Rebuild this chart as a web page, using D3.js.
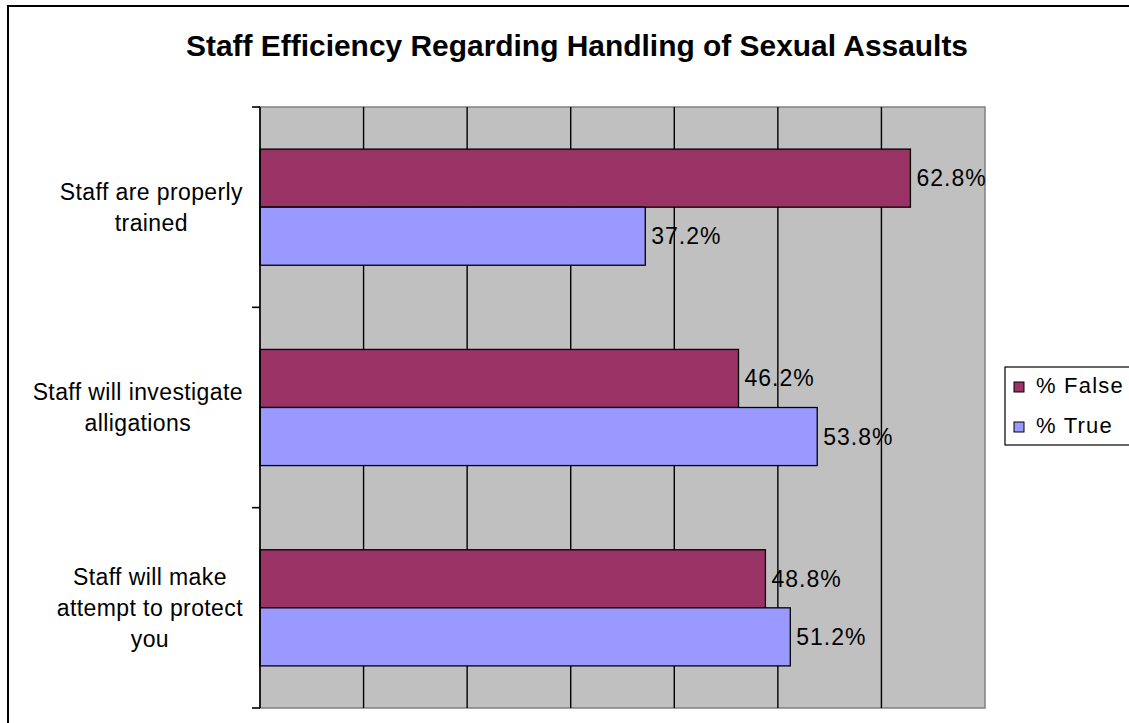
<!DOCTYPE html>
<html>
<head>
<meta charset="utf-8">
<script src="https://cdn.jsdelivr.net/npm/d3@7"></script>
<style>
  html, body { margin: 0; padding: 0; background: #fff; }
  svg { display: block; font-family: Arial, "Liberation Sans", sans-serif; }
</style>
</head>
<body>
<svg id="chart" width="1129" height="723"></svg>
<script>
// Survey categories (line breaks mark where each axis label wraps)
const categories = [
  "Staff are properly\ntrained",
  "Staff will investigate\nalligations",
  "Staff will make\nattempt to protect\nyou"
];
const seriesNames = ["% False", "% True"];
const falseValues = [62.8, 46.2, 48.8];
const trueValues = [37.2, 53.8, 51.2];
const gridTicks = [0, 10, 20, 30, 40, 50, 60, 70];
const seriesColors = ["#993366", "#9999FF"];
const chartTitle = "Staff Efficiency Regarding Handling of Sexual Assaults";

const svg = d3.select("#chart");

// outer chart frame
svg.append("rect")
  .attr("x", 8).attr("y", 6)
  .attr("width", 1140).attr("height", 740)
  .attr("fill", "none").attr("stroke", "#000").attr("stroke-width", 2);

const plot = { left: 260, top: 107, right: 985, bottom: 708 };

const x = d3.scaleLinear().domain([0, 70]).range([plot.left, plot.right]);
const y = d3.scaleBand().domain(categories).range([plot.top, plot.bottom]);
const ySub = d3.scaleBand().domain(seriesNames).range([0, y.bandwidth()]).paddingOuter(0.725);

// plot background
svg.append("rect")
  .attr("x", plot.left).attr("y", plot.top)
  .attr("width", plot.right - plot.left).attr("height", plot.bottom - plot.top)
  .attr("fill", "#C0C0C0").attr("stroke", "#808080").attr("stroke-width", 1.5);

// vertical gridlines
svg.append("g")
  .selectAll("line")
  .data(gridTicks.filter(t => t > 0 && t < 70))
  .join("line")
  .attr("x1", d => x(d)).attr("x2", d => x(d))
  .attr("y1", plot.top).attr("y2", plot.bottom)
  .attr("stroke", "#000").attr("stroke-width", 1.4);

// bars
const rows = categories.map((c, i) => ({
  category: c,
  values: [
    { series: seriesNames[0], value: falseValues[i], color: seriesColors[0] },
    { series: seriesNames[1], value: trueValues[i], color: seriesColors[1] }
  ]
}));

const groups = svg.append("g")
  .selectAll("g")
  .data(rows)
  .join("g")
  .attr("transform", d => `translate(0,${y(d.category)})`);

groups.selectAll("rect")
  .data(d => d.values)
  .join("rect")
  .attr("x", x(0))
  .attr("y", d => ySub(d.series))
  .attr("width", d => x(d.value) - x(0))
  .attr("height", ySub.bandwidth())
  .attr("fill", d => d.color)
  .attr("stroke", "#000").attr("stroke-width", 1.3);

// value labels
groups.selectAll("text")
  .data(d => d.values)
  .join("text")
  .attr("x", d => x(d.value) + 6)
  .attr("y", d => ySub(d.series) + ySub.bandwidth() / 2 + 8)
  .attr("font-size", 23)
  .attr("letter-spacing", 1)
  .attr("fill", "#000")
  .text(d => d.value.toFixed(1) + "%");

// category axis line and ticks
svg.append("line")
  .attr("x1", plot.left).attr("x2", plot.left)
  .attr("y1", plot.top).attr("y2", plot.bottom)
  .attr("stroke", "#000").attr("stroke-width", 1.6);

const boundaries = categories.map(c => y(c)).concat([plot.bottom]);
svg.append("g")
  .selectAll("line")
  .data(boundaries)
  .join("line")
  .attr("x1", plot.left - 8).attr("x2", plot.left)
  .attr("y1", d => d).attr("y2", d => d)
  .attr("stroke", "#000").attr("stroke-width", 1.6);

// category labels: each block right-aligned to the axis, lines centred within block
const lineHeight = 31;
categories.forEach(c => {
  const lines = c.split("\n");
  const g = svg.append("g");
  const center = y(c) + y.bandwidth() / 2;
  const texts = lines.map((ln, i) => g.append("text")
    .attr("y", center + (i - (lines.length - 1) / 2) * lineHeight + 8)
    .attr("font-size", 23)
    .attr("letter-spacing", 0.4)
    .attr("text-anchor", "middle")
    .attr("fill", "#000")
    .text(ln));
  const blockW = d3.max(texts, t => t.node().getComputedTextLength());
  const cx = 243 - blockW / 2;
  texts.forEach(t => t.attr("x", cx));
});

// title
svg.append("text")
  .attr("x", 577).attr("y", 56)
  .attr("text-anchor", "middle")
  .attr("font-size", 30)
  .attr("font-weight", "bold")
  .attr("textLength", 782)
  .attr("lengthAdjust", "spacingAndGlyphs")
  .text(chartTitle);

// legend
const legend = svg.append("g");
legend.append("rect")
  .attr("x", 1005).attr("y", 367)
  .attr("width", 140).attr("height", 78)
  .attr("fill", "#fff").attr("stroke", "#000").attr("stroke-width", 1.2);

const legendItems = legend.selectAll("g")
  .data(seriesNames.map((s, i) => ({ name: s, color: seriesColors[i] })))
  .join("g")
  .attr("transform", (d, i) => `translate(1014,${382 + i * 40})`);

legendItems.append("rect")
  .attr("width", 10).attr("height", 10)
  .attr("fill", d => d.color)
  .attr("stroke", "#000").attr("stroke-width", 1);

legendItems.append("text")
  .attr("x", 22).attr("y", 11)
  .attr("font-size", 22)
  .attr("letter-spacing", 1.2)
  .attr("fill", "#000")
  .text(d => d.name);
</script>
</body>
</html>
